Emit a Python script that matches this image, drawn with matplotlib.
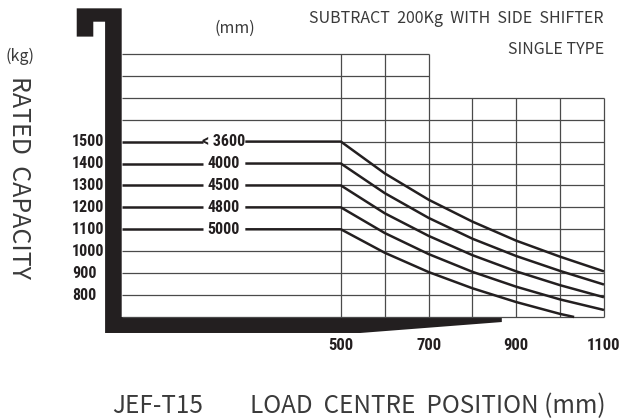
import matplotlib.pyplot as plt
import numpy as np

# load centre (mm) and rated capacity (kg)
load_centre = [500, 600, 700, 800, 900, 1000, 1100]
cap_3600 = [1500, 1355, 1235, 1135, 1048, 975, 908]
cap_4000 = [1400, 1265, 1152, 1057, 978, 910, 848]
cap_4500 = [1300, 1173, 1070, 982, 908, 845, 790]
cap_4800 = [1200, 1083, 987, 906, 838, 780, 732]
centre_5000 = [500, 600, 700, 800, 900, 1000, 1032]
cap_5000 = [1100, 993, 905, 831, 768, 714, 700]

heights = ["< 3600", "4000", "4500", "4800", "5000"]
y_ticks = [800, 900, 1000, 1100, 1200, 1300, 1400, 1500]
x_ticks = [500, 700, 900, 1100]

curves = [
    (load_centre, cap_3600),
    (load_centre, cap_4000),
    (load_centre, cap_4500),
    (load_centre, cap_4800),
    (centre_5000, cap_5000),
]

BLACK = "#231f20"
GRID = "#4a4a4a"
TEXT = "#3a3a3a"
num_font = ["Liberation Sans Narrow", "Roboto Condensed", "Noto Sans Condensed",
            "Open Sans Condensed", "DejaVu Sans"]
txt_font = ["Noto Sans CJK SC", "DejaVu Sans"]

fig = plt.figure(figsize=(6.2, 4.18), dpi=100)
ax = fig.add_axes([0, 0, 1, 1])
ax.set_xlim(-277.6, 1136.6)
ax.set_ylim(239.2, 2146)
ax.axis("off")

# grid
for y in range(700, 2000, 100):
    xr = 700 if y > 1700 else 1100
    if 1100 <= y <= 1500:
        ax.plot([500, xr], [y, y], color=GRID, lw=0.9, solid_capstyle="butt")
    else:
        ax.plot([0, xr], [y, y], color=GRID, lw=0.9, solid_capstyle="butt")
for x in range(500, 1200, 100):
    yt = 1900 if x <= 700 else 1700
    ax.plot([x, x], [700, yt], color=GRID, lw=0.9, solid_capstyle="butt")

# capacity curves with the lift height labels
gap_start, gap_end = 185, 282
for (xs, ys), lab in zip(curves, heights):
    ax.plot([0, gap_start], [ys[0], ys[0]], color=BLACK, lw=1.8, solid_capstyle="butt")
    ax.plot([gap_end] + list(xs), [ys[0]] + list(ys), color=BLACK, lw=1.8,
            solid_capstyle="butt", solid_joinstyle="round")
    ax.text(233, ys[0], lab, ha="center", va="center", fontsize=11.5,
            fontweight="bold", fontstretch="condensed", family=num_font, color=BLACK)

# mast and fork silhouette
mast = [(-102.6, 2108), (0, 2108), (0, 700), (867, 700), (867, 677),
        (544, 627), (-37.9, 627), (-37.9, 2047), (-64.8, 2047),
        (-64.8, 1979), (-102.6, 1979)]
ax.add_patch(plt.Polygon(mast, closed=True, color=BLACK, lw=0))

# tick labels
for v in y_ticks:
    ax.text(-113, v, str(v), ha="left", va="center", fontsize=11.5,
            fontweight="bold", fontstretch="condensed", family=num_font, color=BLACK)
for v in x_ticks:
    ax.text(v, 568, str(v), ha="center", va="center", fontsize=12,
            fontweight="bold", fontstretch="condensed", family=num_font, color=BLACK)

# annotations
ax.text(258, 2018, "(mm)", ha="center", va="center", fontsize=11.5,
        family=txt_font, color=TEXT, fontweight="light")
ax.text(1100, 2060, "SUBTRACT  200Kg  WITH  SIDE  SHIFTER", ha="right", va="center",
        fontsize=11.5, family=txt_font, color=TEXT, fontweight="light")
ax.text(1100, 1922, "SINGLE TYPE", ha="right", va="center", fontsize=11.5,
        family=txt_font, color=TEXT, fontweight="light")
ax.text(-232, 1891, "(kg)", ha="center", va="center", fontsize=11.5,
        family=txt_font, color=TEXT, fontweight="light")
ax.text(-234, 1336, "RATED  CAPACITY", ha="center", va="center", rotation=-90,
        fontsize=18, family=txt_font, color=TEXT, fontweight="light")
ax.text(-22, 262, "JEF-T15", ha="left", va="baseline", fontsize=17.5,
        family=txt_font, color=TEXT, fontweight="light")
ax.text(1104, 262, "LOAD  CENTRE  POSITION (mm)", ha="right", va="baseline",
        fontsize=17.5, family=txt_font, color=TEXT, fontweight="light")

plt.savefig("out.png", dpi=100)
